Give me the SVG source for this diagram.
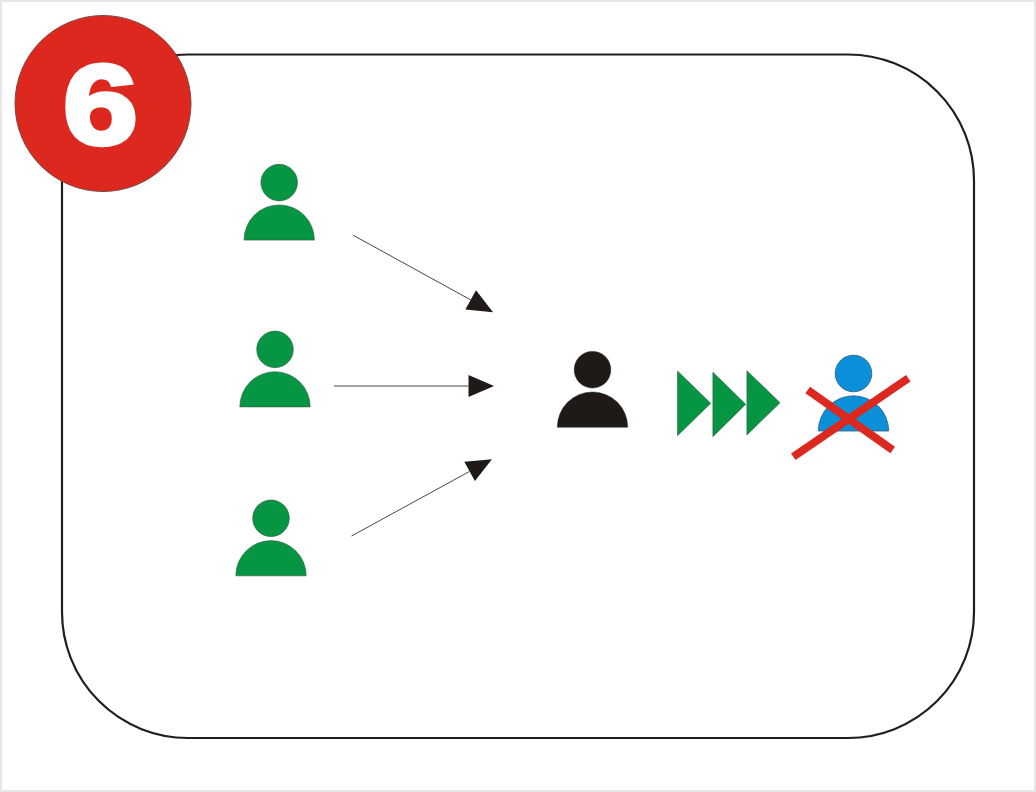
<svg xmlns="http://www.w3.org/2000/svg" width="1036" height="792" viewBox="0 0 1036 792">
<style>
.green{fill:#059543;stroke:#2f5a3e;stroke-width:.6}
.black{fill:#1f1a17;stroke:#1f1a17;stroke-width:.5}
.blue{fill:#0a8fd8;stroke:#2b5f80;stroke-width:.8}
.conn{fill:none;stroke:#333;stroke-width:.9}
.cross{fill:none;stroke:#dc281e;stroke-width:8}
</style>
<defs>
<marker id="arrow" markerUnits="userSpaceOnUse" markerWidth="27" markerHeight="23" refX="0" refY="11" orient="auto" overflow="visible">
<path d="M0,0 L25.5,11 L0,22 Z" fill="#1f1a17"/>
</marker>
<g id="person">
<circle cx="0" cy="0" r="18.3"/>
<path d="M-35.2,57.5 A35.2,35.2 0 0 1 35.2,57.5 Z"/>
</g>
</defs>
<rect x="0" y="0" width="1036" height="792" fill="#ffffff"/>
<rect x="1" y="1" width="1034" height="790" fill="none" stroke="#e6e6e6" stroke-width="2"/>
<g id="frame"><rect x="62" y="54.5" width="912" height="683.5" rx="126" ry="126" fill="#fff" stroke="#1f1f1f" stroke-width="2.2"/></g>
<g id="badge">
<circle cx="103" cy="103.5" r="88" fill="#dc281e" stroke="#7a4a46" stroke-width="1"/>
<text transform="translate(100.5,144) scale(1.16,.97)" text-anchor="middle" font-family="'Liberation Sans',Arial,sans-serif" font-weight="700" font-size="116" fill="#fff" stroke="#fff" stroke-width="4.5">6</text>
</g>
<g id="connectors">
<line class="conn" x1="353.3" y1="235.3" x2="470.7" y2="299.9" marker-end="url(#arrow)"/>
<line class="conn" x1="334" y1="386" x2="468.5" y2="386" stroke="#777" marker-end="url(#arrow)"/>
<line class="conn" x1="351.5" y1="536" x2="469.6" y2="471.4" marker-end="url(#arrow)"/>
</g>
<g id="person-green-1" class="green"><use href="#person" x="279.2" y="182.6"/></g>
<g id="person-green-2" class="green"><use href="#person" x="275" y="349.4"/></g>
<g id="person-green-3" class="green"><use href="#person" x="271" y="518.3"/></g>
<g id="person-black" class="black"><use href="#person" x="592.5" y="369.7"/></g>
<g id="chevrons" class="green">
<polygon points="677.5,371 677.5,435.7 710.7,403.3"/>
<polygon points="712.9,372.3 712.9,436.7 745.7,404.3"/>
<polygon points="746.9,370.7 746.9,435 780,402.7"/>
</g>
<g id="person-blue">
<g class="blue"><use href="#person" x="853.5" y="373.5"/></g>
<line class="cross" x1="793.3" y1="456.7" x2="908.3" y2="378.3"/>
<line class="cross" x1="807.7" y1="390" x2="892.7" y2="450"/>
</g>
</svg>
